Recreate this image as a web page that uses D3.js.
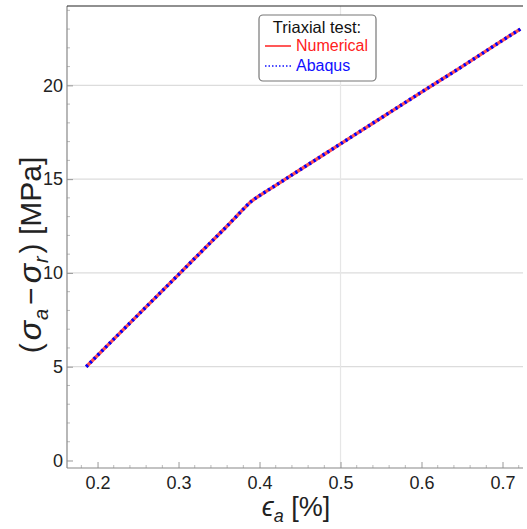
<!doctype html>
<html lang="en">
<head>
    <meta charset="utf-8">
    <script src="https://d3js.org/d3.v7.min.js"></script>
    <title>Triaxial test</title>
    <style>
        body { margin: 0; background: #fff; }
        text { font-family: "Liberation Sans", Arial, sans-serif; }
    </style>
</head>
<body>
    <div id="chart"></div>

    <script>
        // axial strain [%] and deviatoric stress [MPa]
        var strain = [0.186, 0.22, 0.26, 0.30, 0.34, 0.36, 0.37, 0.38, 0.39, 0.40, 0.42, 0.45, 0.50, 0.55, 0.60, 0.65, 0.70, 0.722];
        var numerical = [5.0, 6.47, 8.19, 9.91, 11.64, 12.5, 12.95, 13.4, 13.82, 14.12, 14.67, 15.5, 16.88, 18.26, 19.64, 21.0, 22.4, 23.0];
        var abaqus = [5.0, 6.47, 8.19, 9.91, 11.64, 12.5, 12.95, 13.4, 13.82, 14.12, 14.67, 15.5, 16.88, 18.26, 19.64, 21.0, 22.4, 23.0];

        var xTicks = [0.2, 0.3, 0.4, 0.5, 0.6, 0.7];
        var yTicks = [0, 5, 10, 15, 20];
        var legendTitle = "Triaxial test:";
        var seriesNames = ["Numerical", "Abaqus"];

        var W = 527, H = 529;
        // plot box (named so they don't clash with window.top)
        var pL = 67, pR = 523, pT = 6, pB = 468;

        var x = d3.scaleLinear().domain([0.1623, 0.7253]).range([pL, pR]);
        var y = d3.scaleLinear().domain([-0.4, 24.23]).range([pB, pT]);

        var svg = d3.select("#chart").append("svg")
            .attr("width", W)
            .attr("height", H);

        // grid lines
        svg.append("g")
            .selectAll("line")
            .data([5, 10, 15, 20])
            .enter()
            .append("line")
            .attr("x1", pL).attr("x2", pR)
            .attr("y1", function (d) { return y(d); })
            .attr("y2", function (d) { return y(d); })
            .style("stroke", "#dcdcdc")
            .style("stroke-width", 1.2);

        svg.append("line")
            .attr("x1", x(0.5)).attr("x2", x(0.5))
            .attr("y1", pT).attr("y2", pB)
            .style("stroke", "#e6e6e6")
            .style("stroke-width", 1.2);

        // axes
        var xAxis = d3.axisBottom(x).tickValues(xTicks).tickSize(6).tickFormat(d3.format(".1f"));
        var yAxis = d3.axisLeft(y).tickValues(yTicks).tickSize(-6).tickFormat(d3.format("d"));

        var gx = svg.append("g").attr("transform", "translate(0," + pB + ")").call(xAxis);
        var gy = svg.append("g").attr("transform", "translate(" + pL + ",0)").call(yAxis);

        [gx, gy].forEach(function (g) {
            g.select(".domain").remove();
            g.selectAll("line").style("stroke", "#999");
            g.selectAll("text")
                .style("fill", "#222")
                .style("font-size", "18px")
                .style("font-family", "Liberation Sans, Arial, sans-serif");
        });
        gx.selectAll("line").attr("y2", -6);
        gx.selectAll("text").attr("y", 8);
        gy.selectAll("text").attr("x", -4);

        // minor ticks
        var xMinor = d3.range(0.18, 0.73, 0.02).filter(function (d) { return Math.abs(d * 10 - Math.round(d * 10)) > 0.01; });
        svg.append("g").selectAll("line")
            .data(xMinor).enter().append("line")
            .attr("x1", function (d) { return x(d); })
            .attr("x2", function (d) { return x(d); })
            .attr("y1", pB).attr("y2", pB - 3)
            .style("stroke", "#bbb");

        var yMinor = d3.range(1, 25, 1).filter(function (d) { return d % 5 != 0; });
        svg.append("g").selectAll("line")
            .data(yMinor).enter().append("line")
            .attr("x1", pL).attr("x2", pL + 3)
            .attr("y1", function (d) { return y(d); })
            .attr("y2", function (d) { return y(d); })
            .style("stroke", "#bbb");

        // frame
        svg.append("line").attr("x1", pL).attr("x2", pL).attr("y1", pT).attr("y2", pB)
            .style("stroke", "#888").style("stroke-width", 1.2);
        svg.append("line").attr("x1", pL).attr("x2", pR).attr("y1", pB).attr("y2", pB)
            .style("stroke", "#888").style("stroke-width", 1.2);
        svg.append("line").attr("x1", pL).attr("x2", pR).attr("y1", pT).attr("y2", pT)
            .style("stroke", "#222").style("stroke-width", 1.2);

        // curves
        var line = d3.line()
            .x(function (d) { return x(d[0]); })
            .y(function (d) { return y(d[1]); })
            .curve(d3.curveMonotoneX);

        svg.append("path")
            .datum(d3.zip(strain, numerical))
            .attr("d", line)
            .style("fill", "none")
            .style("stroke", "#ff5050")
            .style("stroke-width", 3.4);

        svg.append("path")
            .datum(d3.zip(strain, abaqus))
            .attr("d", line)
            .style("fill", "none")
            .style("stroke", "#0000ff")
            .style("stroke-width", 3.4)
            .style("stroke-dasharray", "2.4,3");

        // axis titles
        var xt = svg.append("text")
            .attr("x", 296).attr("y", 516)
            .attr("text-anchor", "middle")
            .style("font-size", "27px")
            .style("fill", "#222");
        xt.append("tspan").style("font-style", "italic").text("ϵ");
        xt.append("tspan").attr("dy", 6).style("font-size", "18px").style("font-style", "italic").text("a");
        xt.append("tspan").attr("dy", -6).text(" [%]");

        var yt = svg.append("text")
            .attr("transform", "translate(41,255) rotate(-90)")
            .attr("text-anchor", "middle")
            .style("font-size", "30px")
            .style("fill", "#222");
        yt.append("tspan").text("(");
        yt.append("tspan").attr("dx", 3).style("font-size", "32px").style("font-style", "italic").text("σ");
        yt.append("tspan").attr("dx", 1).attr("dy", 7).style("font-size", "20px").style("font-style", "italic").text("a");
        yt.append("tspan").attr("dx", 4).attr("dy", -7).text("−");
        yt.append("tspan").attr("dx", 4).style("font-size", "32px").style("font-style", "italic").text("σ");
        yt.append("tspan").attr("dx", 1).attr("dy", 7).style("font-size", "20px").style("font-style", "italic").text("r");
        yt.append("tspan").attr("dx", 3).attr("dy", -7).text(")");
        yt.append("tspan").text(" [MPa]");

        // legend
        var lg = svg.append("g");
        lg.append("rect")
            .attr("x", 259).attr("y", 15)
            .attr("width", 117).attr("height", 66)
            .attr("rx", 4)
            .style("fill", "#fff")
            .style("stroke", "#777")
            .style("stroke-width", 1.2);
        lg.append("text")
            .attr("x", 317).attr("y", 33)
            .attr("text-anchor", "middle")
            .style("font-size", "16.5px")
            .style("fill", "#111")
            .text(legendTitle);

        var colors = ["#ff2020", "#1010ff"];
        var dashes = [null, "1.5,2"];
        lg.selectAll(".item")
            .data(seriesNames)
            .enter()
            .append("g")
            .attr("transform", function (d, i) { return "translate(0," + (46 + i * 20) + ")"; })
            .each(function (d, i) {
                var g = d3.select(this);
                g.append("line")
                    .attr("x1", 265).attr("x2", 291)
                    .attr("y1", 0).attr("y2", 0)
                    .style("stroke", colors[i])
                    .style("stroke-width", 1.5)
                    .style("stroke-dasharray", dashes[i]);
                g.append("text")
                    .attr("x", 296).attr("y", 5)
                    .style("font-size", "16px")
                    .style("fill", colors[i])
                    .text(d);
            });
    </script>
</body>
</html>
